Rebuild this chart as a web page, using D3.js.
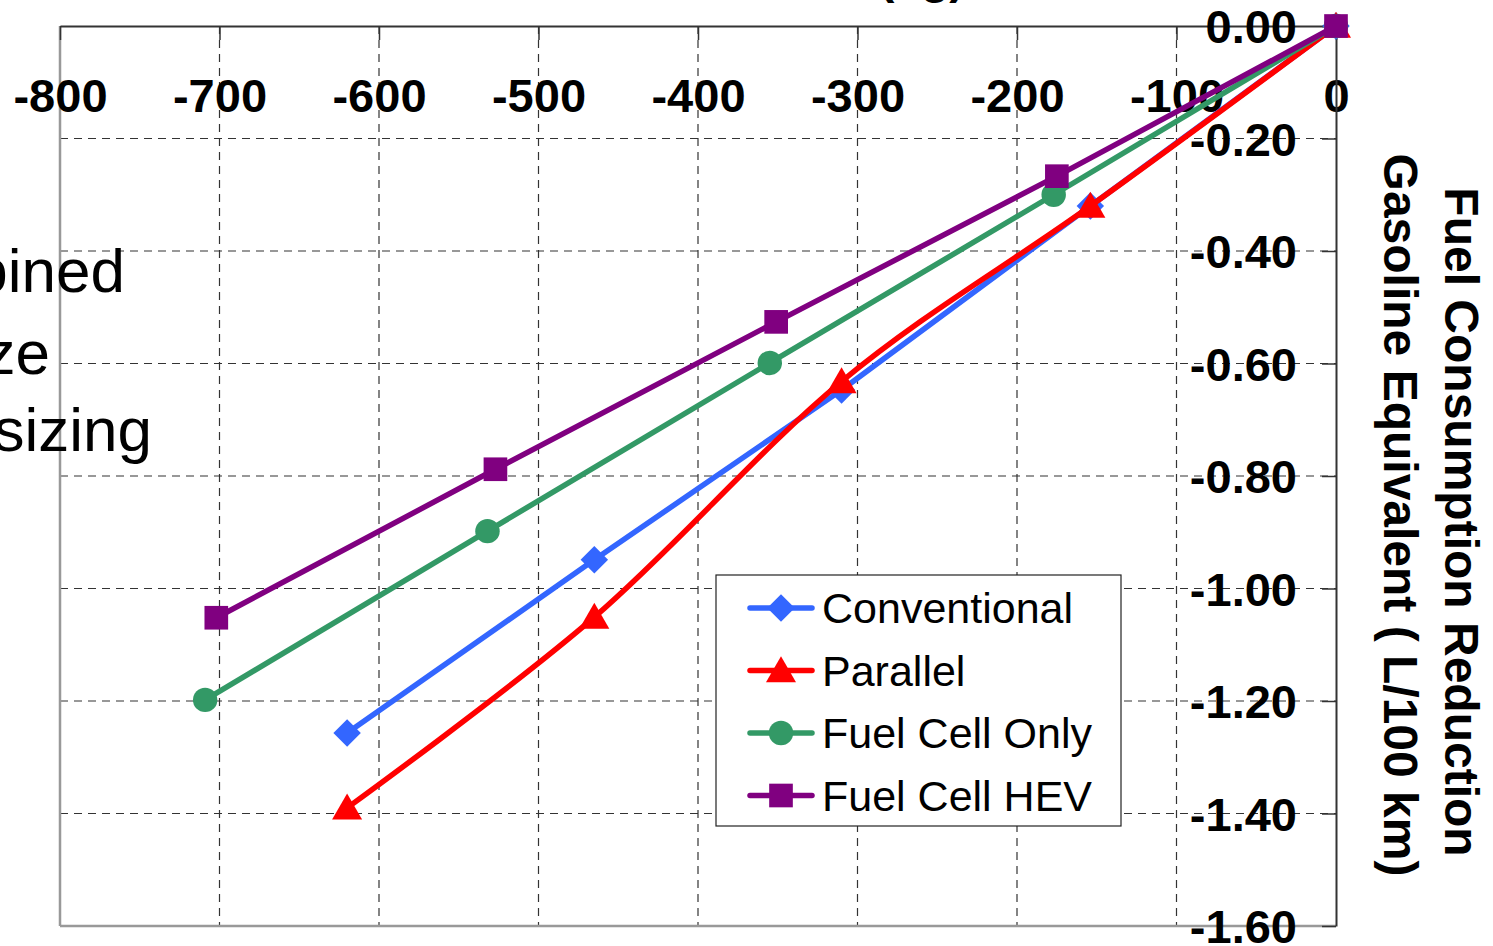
<!DOCTYPE html>
<html>
<head>
<meta charset="utf-8">
<script src="https://cdn.jsdelivr.net/npm/d3@7"></script>
<style>
  html, body { margin: 0; padding: 0; background: #fff; }
  svg { display: block; font-family: "Liberation Sans", Arial, sans-serif; }
</style>
</head>
<body>
<svg id="chart" width="1493" height="946"></svg>
<script>
// Données
const massValues = [0, -154, -310, -465, -620];            // Conventional / Parallel (kg)
const fcMassValues = [0, -177, -355, -532, -709];          // Fuel Cell Only (kg)
const fchevMassValues = [0, -175, -351, -527, -702];       // Fuel Cell HEV (kg)

const conventional = [0, -0.32, -0.647, -0.949, -1.257];
const parallel = [0, -0.32, -0.632, -1.051, -1.39];
const fuelCellOnly = [0, -0.30, -0.599, -0.898, -1.198];
const fuelCellHev = [0, -0.267, -0.526, -0.788, -1.052];

const xTicks = [-800, -700, -600, -500, -400, -300, -200, -100, 0];
const yTicks = [0, -0.2, -0.4, -0.6, -0.8, -1.0, -1.2, -1.4, -1.6];

const seriesList = [
  { name: "Conventional", x: massValues, y: conventional, col: "#3366FF", sym: "diamond", smooth: false },
  { name: "Parallel", x: massValues, y: parallel, col: "#FF0000", sym: "triangle", smooth: true },
  { name: "Fuel Cell Only", x: fcMassValues, y: fuelCellOnly, col: "#339966", sym: "circle", smooth: false },
  { name: "Fuel Cell HEV", x: fchevMassValues, y: fuelCellHev, col: "#800080", sym: "square", smooth: false }
];

//---------------------------------------------------------------------------------------

// Canevas
const plot = { left: 60, right: 1336, top: 26, bottom: 926 };
const svg = d3.select("#chart");

const scaleX = d3.scaleLinear().domain([-800, 0]).range([plot.left, plot.right]);
const scaleY = d3.scaleLinear().domain([-1.6, 0]).range([plot.bottom, plot.top]);

const tickFont = "47px";

//---------------------------------------------------------------------------------------

// Grille en pointillés
svg.append("g")
  .selectAll("line")
  .data(xTicks.slice(1, -1))
  .join("line")
  .attr("x1", d => scaleX(d)).attr("x2", d => scaleX(d))
  .attr("y1", plot.top).attr("y2", plot.bottom)
  .attr("stroke", "#333").attr("stroke-width", 1.2)
  .attr("stroke-dasharray", "8,6");

svg.append("g")
  .selectAll("line")
  .data(yTicks.slice(1, -1))
  .join("line")
  .attr("x1", plot.left).attr("x2", plot.right)
  .attr("y1", d => scaleY(d)).attr("y2", d => scaleY(d))
  .attr("stroke", "#333").attr("stroke-width", 1.2)
  .attr("stroke-dasharray", "8,6");

// Cadre
svg.append("line").attr("x1", plot.left).attr("x2", plot.left).attr("y1", plot.top).attr("y2", plot.bottom)
  .attr("stroke", "#999").attr("stroke-width", 2.5);
svg.append("line").attr("x1", plot.left).attr("x2", plot.right).attr("y1", plot.bottom).attr("y2", plot.bottom)
  .attr("stroke", "#999").attr("stroke-width", 2.5);

// Axe X en haut (graduations vers l'intérieur)
svg.append("g")
  .attr("transform", `translate(0, ${plot.top})`)
  .call(d3.axisBottom(scaleX).tickValues(xTicks).tickSize(14).tickSizeOuter(0).tickFormat(d3.format("d")))
  .call(g => g.selectAll(".domain").attr("stroke", "#333").attr("stroke-width", 2))
  .call(g => g.selectAll(".tick line").attr("stroke", "#333").attr("stroke-width", 1.5))
  .call(g => g.selectAll(".tick text")
    .attr("y", 86).attr("dy", 0)
    .attr("fill", "#000")
    .style("font-size", tickFont).style("font-weight", "bold")
    .style("font-family", "'Liberation Sans', Arial, sans-serif"));

// Axe Y à droite (graduations vers l'intérieur, étiquettes à gauche de l'axe)
svg.append("g")
  .attr("transform", `translate(${plot.right}, 0)`)
  .call(d3.axisLeft(scaleY).tickValues(yTicks).tickSize(14).tickSizeOuter(0).tickFormat(d3.format(".2f")))
  .call(g => g.selectAll(".domain").attr("stroke", "#333").attr("stroke-width", 2))
  .call(g => g.selectAll(".tick line").attr("stroke", "#333").attr("stroke-width", 1.5))
  .call(g => g.selectAll(".tick text")
    .attr("x", -39).attr("dy", "0.36em")
    .attr("fill", "#000")
    .style("font-size", tickFont).style("font-weight", "bold")
    .style("font-family", "'Liberation Sans', Arial, sans-serif"));

// signe moins ASCII comme sur l'original
svg.selectAll(".tick text").text(function() { return this.textContent.replace("−", "-"); });

//---------------------------------------------------------------------------------------

// Courbes
const symbols = {
  diamond: d3.symbol().type(d3.symbolDiamond2).size(480),
  triangle: d3.symbol().type(d3.symbolTriangle).size(390),
  circle: d3.symbol().type(d3.symbolCircle).size(470),
  square: d3.symbol().type(d3.symbolSquare).size(560)
};

seriesList.forEach(s => {
  const pts = s.x.map((x, i) => ({ x, y: s.y[i] }));
  const line = d3.line()
    .x(d => scaleX(d.x))
    .y(d => scaleY(d.y))
    .curve(s.smooth ? d3.curveCatmullRom.alpha(0) : d3.curveLinear);

  svg.append("path")
    .datum(pts)
    .attr("d", line)
    .attr("fill", "none")
    .attr("stroke", s.col)
    .attr("stroke-width", 5.5)
    .attr("stroke-linejoin", "round");

  svg.append("g")
    .selectAll("path")
    .data(pts)
    .join("path")
    .attr("transform", d => `translate(${scaleX(d.x)}, ${scaleY(d.y) + (s.sym === "triangle" ? 3 : 0)})`)
    .attr("d", symbols[s.sym]())
    .attr("fill", s.col);
});

//---------------------------------------------------------------------------------------

// Légende
const legendBox = { x: 716, y: 575, w: 405, h: 251 };
svg.append("rect")
  .attr("x", legendBox.x).attr("y", legendBox.y)
  .attr("width", legendBox.w).attr("height", legendBox.h)
  .attr("fill", "#fff").attr("stroke", "#222").attr("stroke-width", 1.2);

const legend = svg.selectAll(".legend")
  .data(seriesList)
  .join("g")
  .attr("class", "legend")
  .attr("transform", (d, i) => `translate(${legendBox.x}, ${608 + i * 62.5})`);

legend.append("line")
  .attr("x1", 34).attr("x2", 96)
  .attr("stroke", d => d.col).attr("stroke-width", 5.5).attr("stroke-linecap", "round");

legend.append("path")
  .attr("transform", d => `translate(65, ${d.sym === "triangle" ? 3 : 0})`)
  .attr("d", d => symbols[d.sym]())
  .attr("fill", d => d.col);

legend.append("text")
  .attr("x", 106).attr("y", 15)
  .text(d => d.name)
  .style("font-size", "43px");

//---------------------------------------------------------------------------------------

// Titres d'axes et annotations
svg.append("text")
  .attr("x", 965).attr("y", -7)
  .attr("text-anchor", "end")
  .style("font-size", "47px").style("font-weight", "bold")
  .text("Vehicle Mass Reduction (kg)");

const yTitle = ["Fuel Consumption Reduction", "Gasoline Equivalent ( L/100 km)"];
svg.append("text")
  .attr("transform", "translate(1445, 522) rotate(90)")
  .attr("text-anchor", "middle")
  .style("font-size", "48px").style("font-weight", "bold")
  .text(yTitle[0]);
svg.append("text")
  .attr("transform", "translate(1384, 515) rotate(90)")
  .attr("text-anchor", "middle")
  .style("font-size", "48px").style("font-weight", "bold")
  .text(yTitle[1]);

const sideNote = [
  { t: "Combined", x: 125, y: 292 },
  { t: "Size", x: 50, y: 374 },
  { t: "Downsizing", x: 152, y: 451 }
];
svg.append("g")
  .selectAll("text")
  .data(sideNote)
  .join("text")
  .attr("x", d => d.x).attr("y", d => d.y)
  .attr("text-anchor", "end")
  .style("font-size", "62px")
  .text(d => d.t);
</script>
</body>
</html>
